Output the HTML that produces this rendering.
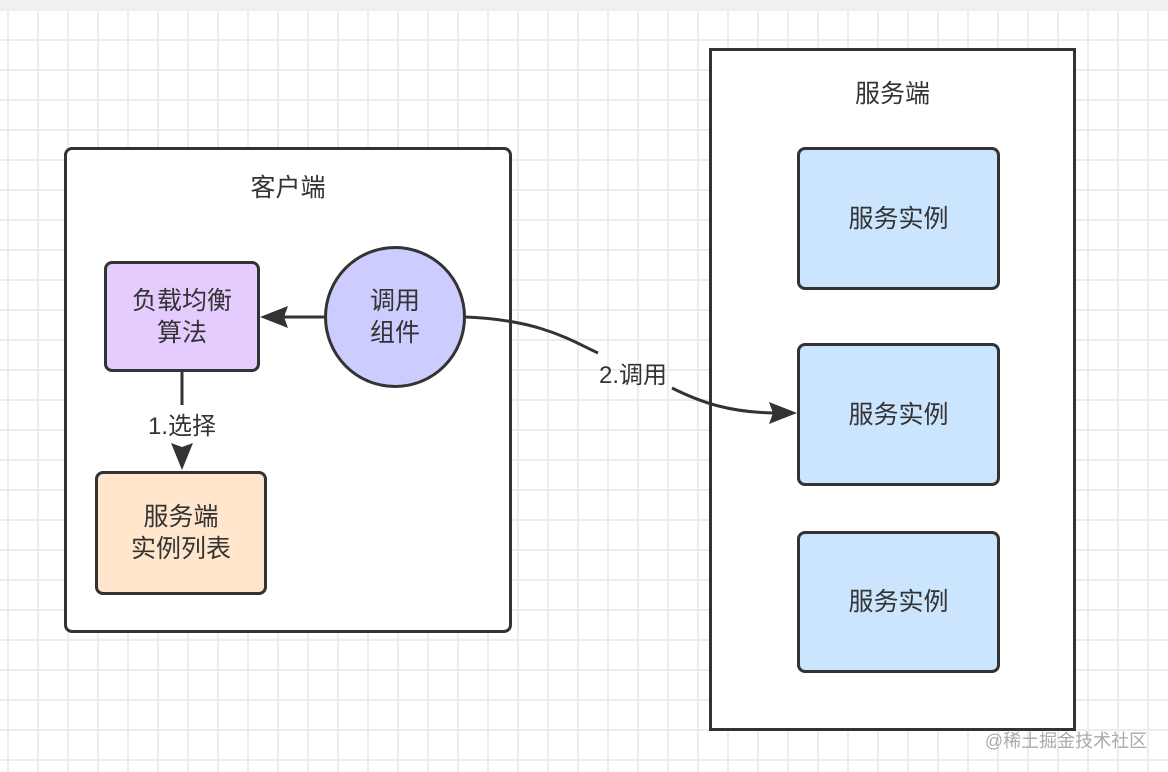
<!DOCTYPE html>
<html><head><meta charset="utf-8"><style>
html,body{margin:0;padding:0}
body{width:1168px;height:772px;overflow:hidden;position:relative;background-color:#fff;
background-image:linear-gradient(#ececec 2px,transparent 2px),linear-gradient(90deg,#ececec 2px,transparent 2px);
background-size:30px 30px;background-position:7px 9px;font-family:"Liberation Sans","Noto Sans CJK SC",sans-serif;color:#333}
.top{position:absolute;left:0;top:0;width:1168px;height:11px;background:#f0f0f0}
.b{position:absolute;box-sizing:border-box;border:3px solid #333;border-radius:8px;display:flex;align-items:center;justify-content:center;text-align:center;font-size:25px;line-height:32px}
.t{position:absolute;font-size:25px;text-align:center}
</style></head><body>
<div class="top"></div>
<div class="b" style="left:64px;top:147px;width:448px;height:486px;background:#fff;border-radius:8px"></div>
<div class="b" style="left:709px;top:48px;width:367px;height:683px;background:#fff;border-radius:0"></div>
<div class="t" style="left:64px;top:168px;width:448px">客户端</div>
<div class="t" style="left:709px;top:74px;width:367px">服务端</div>
<div class="b" style="left:104px;top:261px;width:156px;height:111px;background:#e5ccff">负载均衡<br>算法</div>
<div class="b" style="left:95px;top:471px;width:172px;height:124px;background:#ffe6cc">服务端<br>实例列表</div>
<div class="b" style="left:324px;top:246px;width:142px;height:142px;border-radius:50%;background:#ccccff">调用<br>组件</div>
<div class="b" style="left:797px;top:147px;width:203px;height:143px;background:#cce5ff">服务实例</div>
<div class="b" style="left:797px;top:343px;width:203px;height:143px;background:#cce5ff">服务实例</div>
<div class="b" style="left:797px;top:531px;width:203px;height:142px;background:#cce5ff">服务实例</div>
<svg style="position:absolute;left:0;top:0" width="1168" height="772">
<g stroke="#333" stroke-width="3" fill="none">
<line x1="324" y1="317" x2="280" y2="317"/>
<line x1="182" y1="372" x2="182" y2="405"/>
<path d="M466 317 C540 320 570 340 598 353"/>
<path d="M672 388 C700 402 730 413 778 413"/>
</g>
<g fill="#333">
<polygon points="260,317 288,306 284,317 288,328"/>
<polygon points="182,470 171,443 182,447 193,443"/>
<polygon points="797,413 769,402 773,413 769,424"/>
</g>
<rect x="136" y="406" width="92" height="34" fill="#fff"/>
<text x="182" y="434" font-size="24" text-anchor="middle" fill="#333" font-family="Liberation Sans, Noto Sans CJK SC, sans-serif">1.选择</text>
<text x="633" y="383" font-size="24" text-anchor="middle" fill="#333" font-family="Liberation Sans, Noto Sans CJK SC, sans-serif">2.调用</text>
<text x="1066" y="747" font-size="18" text-anchor="middle" fill="#aaa" font-family="Liberation Sans, Noto Sans CJK SC, sans-serif">@稀土掘金技术社区</text>
</svg>
</body></html>
